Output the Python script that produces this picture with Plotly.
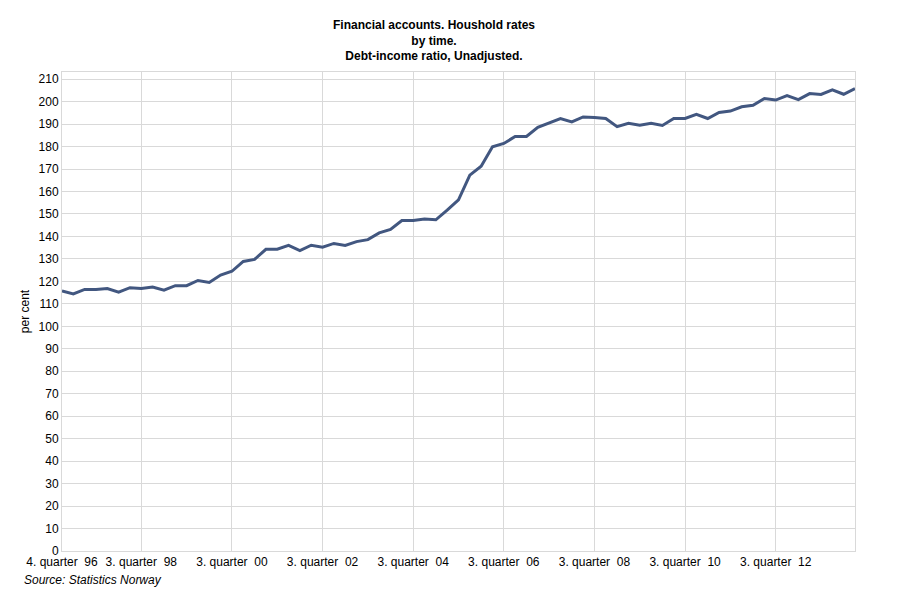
import plotly.graph_objects as go

# quarters from 4. quarter 1996 to 2. quarter 2014
quarters = ['1996K4'] + [f'{y}K{q}' for y in range(1997, 2014) for q in range(1, 5)] + ['2014K1', '2014K2']

debt_income = [
    115.7, 114.4, 116.4, 116.4, 116.8, 115.2, 117.2, 116.8, 117.5, 116.1,
    118.1, 118.1, 120.4, 119.5, 122.8, 124.5, 128.9, 129.8, 134.3, 134.3,
    136.0, 133.7, 136.1, 135.2, 136.9, 136.0, 137.7, 138.6, 141.6, 143.1,
    147.1, 147.1, 147.8, 147.4, 151.7, 156.3, 167.3, 171.3, 179.9, 181.4,
    184.5, 184.5, 188.6, 190.7, 192.5, 191.0, 193.2, 192.9, 192.5, 188.9,
    190.4, 189.5, 190.4, 189.4, 192.5, 192.5, 194.4, 192.5, 195.2, 195.8,
    197.7, 198.4, 201.4, 200.7, 202.7, 200.9, 203.6, 203.2, 205.3, 203.3,
    205.8,
]

tick_idx = [0, 7, 15, 23, 31, 39, 47, 55, 63]
tick_labels = ['4. quarter\u00a0 96', '3. quarter\u00a0 98', '3. quarter\u00a0 00',
               '3. quarter\u00a0 02', '3. quarter\u00a0 04', '3. quarter\u00a0 06',
               '3. quarter\u00a0 08', '3. quarter\u00a0 10', '3. quarter\u00a0 12']

font = 'Liberation Sans, Arial, sans-serif'
grid = '#d9d9d9'

fig = go.Figure(go.Scatter(
    x=list(range(len(quarters))),
    y=debt_income,
    customdata=quarters,
    mode='lines',
    line=dict(color='#425780', width=3),
    hovertemplate='%{customdata}: %{y}<extra></extra>',
))

# page body has an 8px margin, so the figure is a bit smaller than the window
fig.update_layout(
    width=892, height=592,
    margin=dict(l=54, r=45, t=64, b=49),
    paper_bgcolor='white', plot_bgcolor='white',
    font=dict(family=font, size=12, color='black'),
    showlegend=False,
    title=dict(
        text='<b>Financial accounts. Houshold rates<br>by time.<br>Debt-income ratio, Unadjusted.</b>',
        x=0.4776, xanchor='center', y=0.9645, yanchor='top',
        font=dict(size=12, family=font),
    ),
    annotations=[dict(
        text='<i>Source: Statistics Norway</i>', xref='paper', yref='paper',
        x=-0.0504, y=-0.0605, xanchor='left', yanchor='middle', showarrow=False,
        font=dict(size=12, family=font),
    )],
)

fig.update_xaxes(
    range=[0, len(quarters) - 1],
    tickvals=tick_idx, ticktext=tick_labels,
    showgrid=True, gridcolor=grid, gridwidth=1,
    showline=True, linecolor=grid, mirror=True,
    ticks='', tickfont=dict(size=12), zeroline=False,
)
fig.update_yaxes(
    range=[0, 213.2], dtick=10,
    title=dict(text='per cent', font=dict(size=12), standoff=6),
    showgrid=True, gridcolor=grid, gridwidth=1,
    showline=True, linecolor=grid, mirror=True,
    ticks='', tickfont=dict(size=12), zeroline=False,
)

fig.write_html('out.html')
